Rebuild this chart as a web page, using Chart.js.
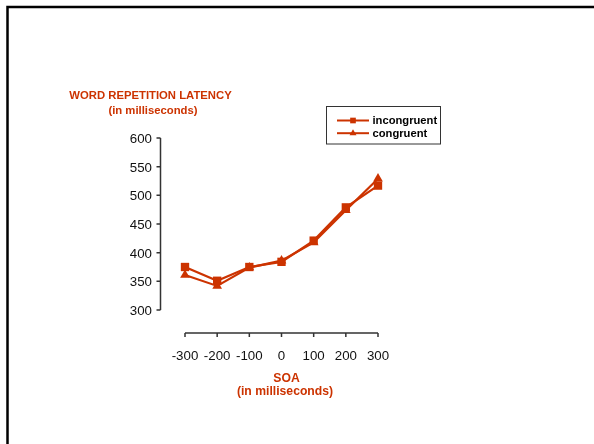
<!DOCTYPE html>
<html>
<head>
<meta charset="utf-8">
<script src="https://cdn.jsdelivr.net/npm/chart.js"></script>
<style>
  html, body { margin: 0; padding: 0; background: #fff; }
  #wrap { position: relative; width: 594px; height: 444px; }
</style>
</head>
<body>
<div id="wrap"><canvas id="soaChart" width="594" height="444"></canvas></div>
<script>
// SOA values (ms) and mean latencies
const soa = [-300, -200, -100, 0, 100, 200, 300];
const incongruent = [375, 351, 375, 384, 421, 479, 517];
const congruent = [361, 342, 374, 386, 418, 474, 529];
const yTicks = [300, 350, 400, 450, 500, 550, 600];
const xTicks = [-300, -200, -100, 0, 100, 200, 300];

const RED = "#cc3300";
const FONT = "'Liberation Sans', Arial, Helvetica, sans-serif";

// axes, titles, legend and frame drawn by hand so they sit like the original
const decorPlugin = {
    id: "decor",
    beforeDraw(chart) {
        const ctx = chart.ctx;
        ctx.save();
        ctx.fillStyle = "#fff";
        ctx.fillRect(0, 0, chart.width, chart.height);
        // slide frame (runs off right and bottom)
        ctx.strokeStyle = "#000";
        ctx.lineWidth = 2.5;
        ctx.strokeRect(7.5, 7, 700, 600);
        ctx.restore();
    },
    beforeDatasetsDraw(chart) {
        const ctx = chart.ctx;
        const x = chart.scales.x, y = chart.scales.y;
        ctx.save();
        ctx.strokeStyle = "#333";
        ctx.lineWidth = 1.5;

        // y axis, detached to the left of the data
        const yx = 160.5;
        ctx.beginPath();
        ctx.moveTo(yx, y.getPixelForValue(600));
        ctx.lineTo(yx, y.getPixelForValue(300));
        yTicks.forEach(v => {
            const py = y.getPixelForValue(v);
            ctx.moveTo(yx - 4, py);
            ctx.lineTo(yx, py);
        });
        ctx.stroke();

        // x axis, detached below the data
        const xy = y.getPixelForValue(300) + 23;
        ctx.beginPath();
        ctx.moveTo(x.getPixelForValue(-300), xy);
        ctx.lineTo(x.getPixelForValue(300), xy);
        xTicks.forEach(v => {
            const px = x.getPixelForValue(v);
            ctx.moveTo(px, xy);
            ctx.lineTo(px, xy + 4);
        });
        ctx.stroke();
        ctx.restore();
    },
    afterDraw(chart) {
        const ctx = chart.ctx;
        ctx.save();
        ctx.fillStyle = RED;
        ctx.textAlign = "center";
        ctx.textBaseline = "middle";

        // y title
        ctx.font = "bold 11.3px " + FONT;
        ctx.fillText("WORD REPETITION LATENCY", 150.5, 95.5);
        ctx.fillText("(in milliseconds)", 153, 110.5);

        // x title
        ctx.font = "bold 12.2px " + FONT;
        ctx.fillText("SOA", 286.5, 378.5);
        ctx.fillText("(in milliseconds)", 285, 391.5);

        // legend box
        ctx.strokeStyle = "#333";
        ctx.lineWidth = 1;
        ctx.strokeRect(326.5, 106.5, 114, 37.5);
        ctx.textAlign = "left";
        ctx.font = "bold 11.2px " + FONT;
        chart.data.datasets.forEach((ds, i) => {
            const ly = 120.5 + i * 12.7;
            ctx.strokeStyle = ds.borderColor;
            ctx.lineWidth = 2;
            ctx.beginPath();
            ctx.moveTo(337, ly);
            ctx.lineTo(369, ly);
            ctx.stroke();
            ctx.fillStyle = ds.backgroundColor;
            Chart.helpers.drawPoint(ctx, {
                pointStyle: ds.pointStyle, radius: 4, rotation: 0, borderWidth: 0
            }, 353, ly);
            ctx.fillStyle = "#000";
            ctx.fillText(ds.label, 372.5, ly + 0.5);
        });
        ctx.restore();
    }
};

new Chart(document.getElementById("soaChart").getContext("2d"), {
    type: "line",
    data: {
        datasets: [
            {
                label: "incongruent",
                data: soa.map((s, i) => ({ x: s, y: incongruent[i] })),
                borderColor: RED,
                backgroundColor: RED,
                borderWidth: 2.2,
                pointStyle: "rect",
                pointRadius: 5.9,
                pointBorderWidth: 0,
                clip: false
            },
            {
                label: "congruent",
                data: soa.map((s, i) => ({ x: s, y: congruent[i] })),
                borderColor: RED,
                backgroundColor: RED,
                borderWidth: 2.2,
                pointStyle: "triangle",
                pointRadius: 5.6,
                pointBorderWidth: 0,
                clip: false
            }
        ]
    },
    options: {
        responsive: false,
        animation: false,
        events: [],
        layout: { padding: { left: 125, right: 216, top: 138, bottom: 0 } },
        scales: {
            x: {
                type: "linear",
                min: -300,
                max: 300,
                grid: { display: false, drawTicks: false },
                border: { display: false },
                afterBuildTicks: s => { s.ticks = xTicks.map(v => ({ value: v })); },
                afterFit: s => { s.height = 134; },
                ticks: {
                    padding: 38,
                    maxRotation: 0,
                    autoSkip: false,
                    color: "#111",
                    font: { family: FONT, size: 13.3 }
                }
            },
            y: {
                min: 300,
                max: 600,
                grid: { display: false, drawTicks: false },
                border: { display: false },
                afterBuildTicks: s => { s.ticks = yTicks.map(v => ({ value: v })); },
                afterFit: s => { s.width = 60; },
                ticks: {
                    padding: 33,
                    labelOffset: 1.5,
                    color: "#111",
                    font: { family: FONT, size: 13.3 }
                }
            }
        },
        plugins: {
            legend: { display: false },
            tooltip: { enabled: false }
        }
    },
    plugins: [decorPlugin]
});
</script>
</body>
</html>
